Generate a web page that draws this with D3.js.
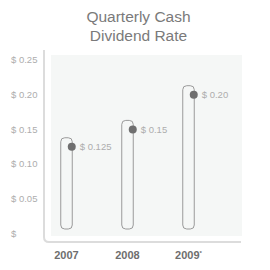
<!DOCTYPE html>
<html lang="en">
<head>
    <meta charset="UTF-8">
    <title>Quarterly Cash Dividend Rate</title>
    <script src="https://d3js.org/d3.v7.min.js"></script>
    <style>
        body { margin: 0; background: #fff; }
        svg { display: block; }
    </style>
</head>
<body>
    <div id="chart"></div>

    <script>
        // chart data
        const years = ["2007", "2008", "2009"];
        const rates = [0.125, 0.15, 0.20];
        const rateLabels = ["$ 0.125", "$ 0.15", "$ 0.20"];
        const yTicks = [0, 0.05, 0.10, 0.15, 0.20, 0.25];
        const yTickLabels = ["$", "$ 0.05", "$ 0.10", "$ 0.15", "$ 0.20", "$ 0.25"];

        const width = 270;
        const height = 270;
        const font = "'Liberation Sans', Arial, sans-serif";

        const svg = d3.select("#chart")
            .append("svg")
            .attr("width", width)
            .attr("height", height);

        // scales
        const x = d3.scalePoint()
            .domain(years)
            .range([66.5, 188.5]);

        const y = d3.scaleLinear()
            .domain([0, 0.25])
            .range([233.5, 60]);

        // title
        svg.append("text")
            .attr("x", 138.5)
            .attr("y", 22)
            .attr("text-anchor", "middle")
            .attr("font-family", font)
            .attr("font-size", "15.5px")
            .attr("fill", "#7a7a7a")
            .selectAll("tspan")
            .data(["Quarterly Cash", "Dividend Rate"])
            .enter()
            .append("tspan")
            .attr("x", 138.5)
            .attr("dy", (d, i) => i === 0 ? 0 : 18.5)
            .text(d => d);

        // plot background
        svg.append("rect")
            .attr("x", 51)
            .attr("y", 55)
            .attr("width", 191)
            .attr("height", 181)
            .attr("fill", "#f5f7f6");

        // axis lines (rounded corner)
        svg.append("path")
            .attr("d", "M44,50 V237 Q44,242 49,242 H241")
            .attr("fill", "none")
            .attr("stroke", "#dcdcdc")
            .attr("stroke-width", 2);

        // y tick labels
        svg.selectAll(".ytick")
            .data(yTicks)
            .enter()
            .append("text")
            .attr("class", "ytick")
            .attr("x", 11)
            .attr("y", d => y(d))
            .attr("dy", "0.35em")
            .attr("font-family", font)
            .attr("font-size", "9.5px")
            .attr("fill", "#adadad")
            .text((d, i) => yTickLabels[i]);

        const barW = 11.5;

        // bars
        svg.selectAll(".bar")
            .data(rates)
            .enter()
            .append("rect")
            .attr("class", "bar")
            .attr("x", (d, i) => x(years[i]) - barW / 2)
            .attr("y", d => y(d) - 9)
            .attr("width", barW)
            .attr("height", d => (y(0) - 4.5) - (y(d) - 9))
            .attr("rx", 4)
            .attr("fill", "none")
            .attr("stroke", "#9a9a9a")
            .attr("stroke-width", 1);

        // dots
        svg.selectAll(".dot")
            .data(rates)
            .enter()
            .append("circle")
            .attr("class", "dot")
            .attr("cx", (d, i) => x(years[i]) + barW / 2 - 0.5)
            .attr("cy", d => y(d))
            .attr("r", 4)
            .attr("fill", "#6f6f6f");

        // value labels
        svg.selectAll(".val")
            .data(rates)
            .enter()
            .append("text")
            .attr("class", "val")
            .attr("x", (d, i) => x(years[i]) + barW / 2 + 7.5)
            .attr("y", d => y(d))
            .attr("dy", "0.35em")
            .attr("font-family", font)
            .attr("font-size", "9.5px")
            .attr("fill", "#adadad")
            .text((d, i) => rateLabels[i]);

        // x labels
        const xl = svg.selectAll(".xlab")
            .data(years)
            .enter()
            .append("text")
            .attr("class", "xlab")
            .attr("x", d => x(d))
            .attr("y", 259)
            .attr("text-anchor", "middle")
            .attr("font-family", font)
            .attr("font-size", "11px")
            .attr("font-weight", "bold")
            .attr("fill", "#6e6e6e");

        xl.append("tspan").text(d => d);
        xl.filter(d => d === "2009")
            .append("tspan")
            .attr("dy", -4)
            .attr("font-size", "6px")
            .text("*");
    </script>
</body>
</html>
